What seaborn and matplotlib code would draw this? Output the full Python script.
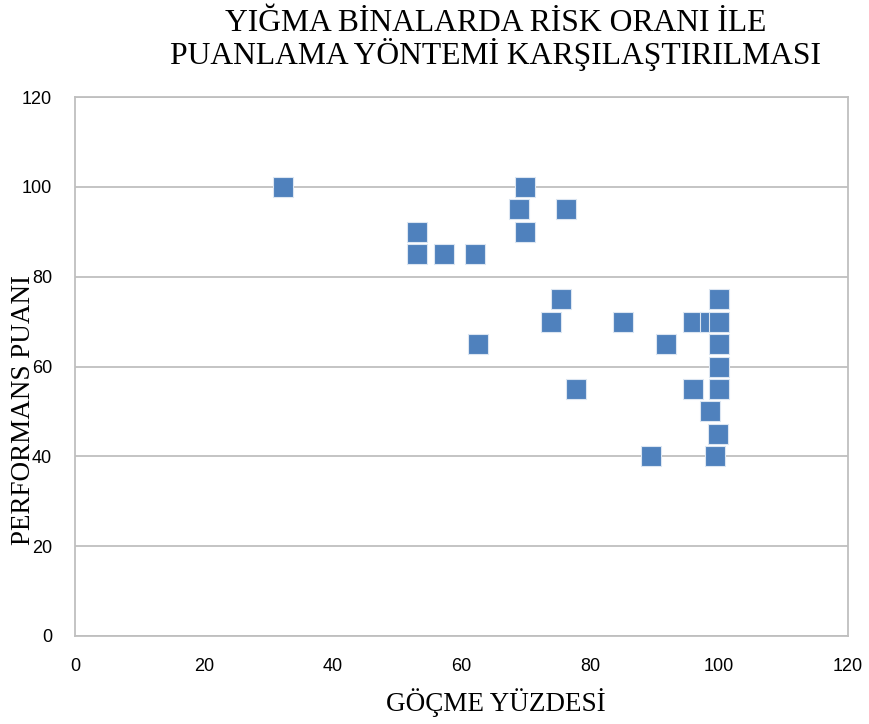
import matplotlib
matplotlib.use("Agg")
import matplotlib.pyplot as plt
import seaborn as sns
import pandas as pd

# Data
gocme_yuzdesi = [32.3, 53.1, 53.1, 57.3, 62.1, 62.6, 69.0, 69.9, 69.9, 76.3,
                 75.5, 73.9, 77.8, 85.1, 89.4, 91.8, 96.0, 96.0, 98.6, 98.5,
                 99.3, 100.0, 100.0, 100.0, 100.0, 100.0, 99.8]
performans_puani = [100, 90, 85, 85, 85, 65, 95, 100, 90, 95,
                    75, 70, 55, 70, 40, 65, 70, 55, 70, 50,
                    40, 75, 70, 65, 60, 55, 45]

title_text = "YIĞMA BİNALARDA RİSK ORANI İLE\nPUANLAMA YÖNTEMİ KARŞILAŞTIRILMASI"
x_label = "GÖÇME YÜZDESİ"
y_label = "PERFORMANS PUANI"
ticks = [0, 20, 40, 60, 80, 100, 120]

df = pd.DataFrame({"x": gocme_yuzdesi, "y": performans_puani})

sns.set_theme(style="white")
plt.rcParams['font.family'] = ['Liberation Sans', 'DejaVu Sans']

fig = plt.figure(figsize=(8.7, 7.24), dpi=100)
ax = fig.add_axes([75/870, 1-636/724, (848-75)/870, (636-97)/724])

sns.scatterplot(data=df, x="x", y="y", ax=ax, marker="s", s=205,
                color="#4F81BD", edgecolor="#DCE6F2", linewidth=0.8, zorder=3)

ax.set_xlim(0, 120)
ax.set_ylim(0, 120)
ax.set_xticks(ticks)
ax.set_yticks(ticks)
ax.set_xticklabels([str(t) for t in ticks], fontsize=13)
ax.set_yticklabels([str(t) for t in ticks], fontsize=13)
ax.tick_params(axis='both', length=0, colors="#000000")
ax.tick_params(axis='x', pad=16)
ax.tick_params(axis='y', pad=16.5)
ax.yaxis.grid(True, color="#BFBFBF", linewidth=1.3)
ax.xaxis.grid(False)
for sp in ax.spines.values():
    sp.set_color("#BFBFBF")
    sp.set_linewidth(1.3)

serif = ['Liberation Serif', 'DejaVu Serif']
ax.set_xlabel(x_label, fontsize=19.5, family=serif, color="#000000", va="center")
ax.xaxis.set_label_coords((496-75)/773, -(703-636)/539)
ax.set_ylabel(y_label, fontsize=19.5, family=serif, color="#000000")
ax.yaxis.set_label_coords((36-75)/773, (636-410)/539)

fig.text(496/870, 1-40/724, title_text, ha="center", va="center",
         fontsize=22.8, family=serif, linespacing=1.02, color="#000000")

fig.savefig("out.png", dpi=100)
